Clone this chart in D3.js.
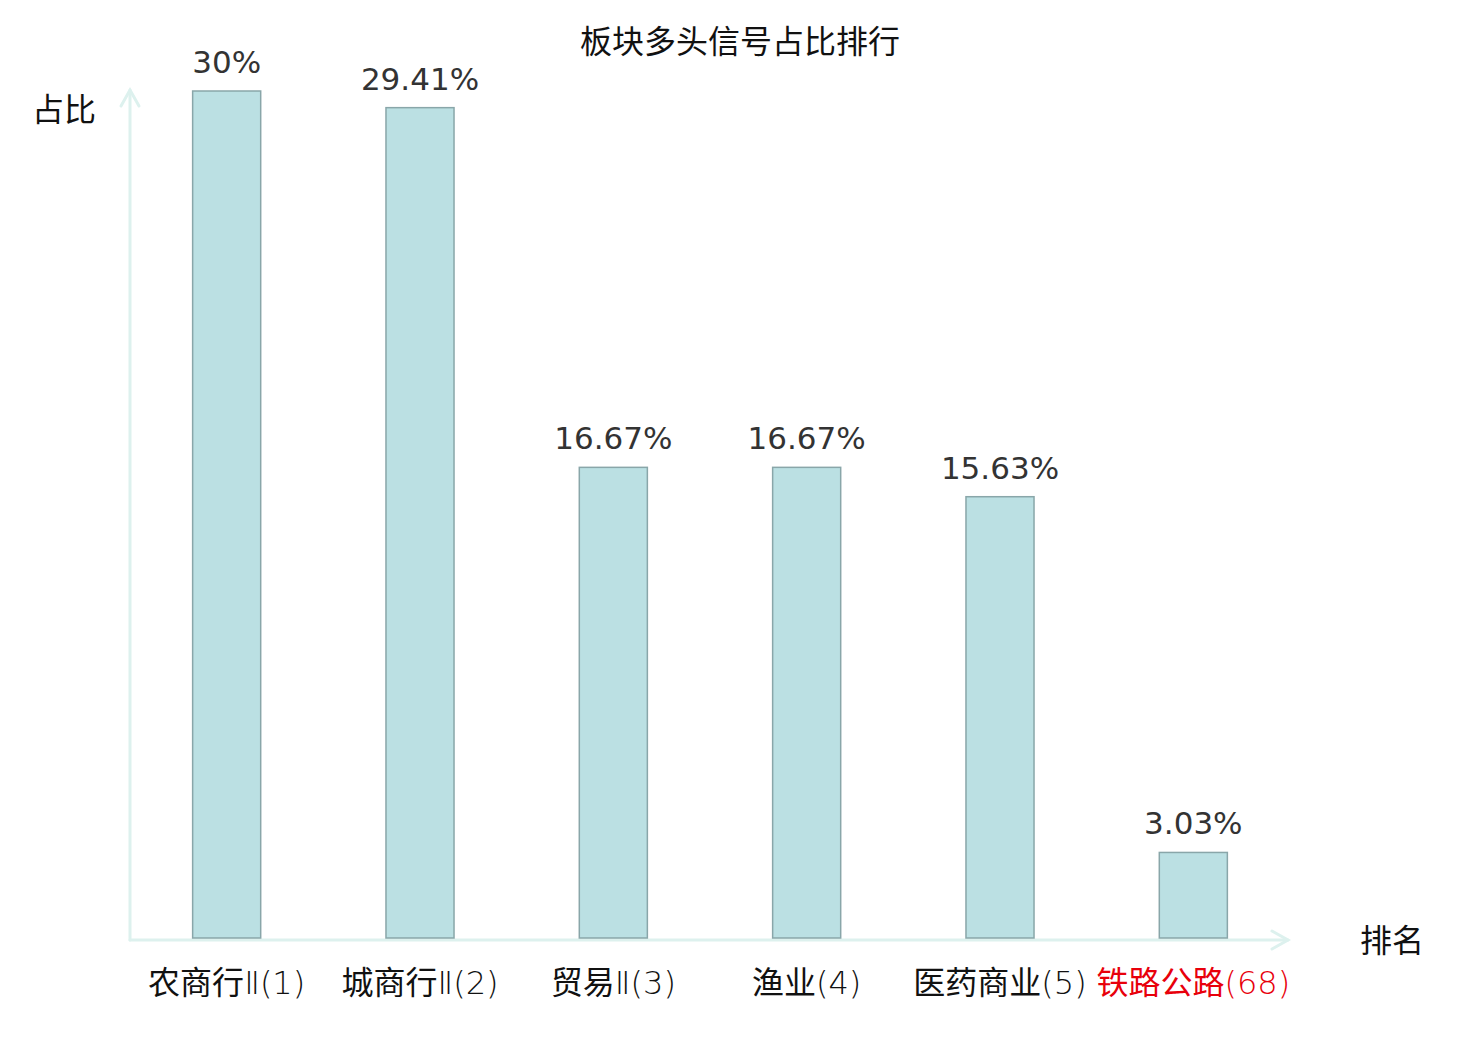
<!DOCTYPE html>
<html>
<head>
<meta charset="utf-8">
<script src="https://cdn.jsdelivr.net/npm/d3@7"></script>
<style>
  body { margin: 0; background: #fff; }
  svg { display: block; }
</style>
</head>
<body>
<div id="chart"></div>
<script>
// chart data
const categories = ["农商行Ⅱ(1)", "城商行Ⅱ(2)", "贸易Ⅱ(3)", "渔业(4)", "医药商业(5)", "铁路公路(68)"];
const shares = [30, 29.41, 16.67, 16.67, 15.63, 3.03];
const valueLabels = ["30%", "29.41%", "16.67%", "16.67%", "15.63%", "3.03%"];
const highlighted = ["铁路公路(68)"];

const cjk = "'Noto Sans CJK SC', 'Noto Sans', sans-serif";
const latin = "'DejaVu Sans', sans-serif";
const thin = "'DejaVu Sans ExtraLight', 'DejaVu Sans', sans-serif";

function renderChart() {
  const svg = d3.select("#chart")
    .append("svg")
    .attr("width", 1480)
    .attr("height", 1040);

  // scales
  const x = d3.scaleBand()
    .domain(categories)
    .range([130, 1290])
    .paddingInner(0.648)
    .paddingOuter(0.324);

  const y = d3.scaleLinear()
    .domain([0, 30])
    .range([938, 91]);

  const axisColor = "#ddf1ee";

  // axis lines with arrow heads
  const axes = svg.append("g")
    .attr("stroke", axisColor)
    .attr("stroke-width", 3)
    .attr("fill", "none")
    .attr("stroke-linecap", "round");

  axes.append("line")
    .attr("x1", 130).attr("y1", 940)
    .attr("x2", 130).attr("y2", 90);
  axes.append("path")
    .attr("d", "M121,106 L130,90 L139,106");

  axes.append("line")
    .attr("x1", 130).attr("y1", 940)
    .attr("x2", 1288).attr("y2", 940);
  axes.append("path")
    .attr("d", "M1272,931 L1288,940 L1272,949");

  // bars
  svg.selectAll(".bar")
    .data(categories)
    .enter().append("rect")
    .attr("class", "bar")
    .attr("x", d => x(d))
    .attr("y", (d, i) => y(shares[i]))
    .attr("width", x.bandwidth())
    .attr("height", (d, i) => y(0) - y(shares[i]))
    .attr("fill", "#bbe0e3")
    .attr("stroke", "#89a6a9")
    .attr("stroke-width", 1.5);

  // value labels
  svg.selectAll(".top-label")
    .data(categories)
    .enter().append("text")
    .attr("class", "top-label")
    .attr("x", d => x(d) + x.bandwidth() / 2)
    .attr("y", (d, i) => y(shares[i]) - 18)
    .attr("text-anchor", "middle")
    .style("font-family", latin)
    .style("font-size", "31px")
    .style("fill", "#333")
    .text((d, i) => valueLabels[i]);

  // category labels: CJK name, then roman numeral and rank in a thin face
  const split = d => d.match(/^(.*?)(Ⅱ?\(\d+\))$/);

  const cat = svg.selectAll(".cat-label")
    .data(categories)
    .enter().append("text")
    .attr("class", "cat-label")
    .attr("x", d => x(d) + x.bandwidth() / 2)
    .attr("y", 994)
    .attr("text-anchor", "middle")
    .style("font-size", "32px")
    .style("fill", d => highlighted.includes(d) ? "#e8000b" : "#111");

  cat.append("tspan")
    .style("font-family", cjk)
    .text(d => split(d)[1]);
  cat.append("tspan")
    .style("font-family", thin)
    .style("font-weight", 200)
    .text(d => split(d)[2]);

  // title
  svg.append("text")
    .attr("x", 740)
    .attr("y", 53)
    .attr("text-anchor", "middle")
    .style("font-family", cjk)
    .style("font-size", "32px")
    .style("fill", "#111")
    .text("板块多头信号占比排行");

  // axis names
  svg.append("text")
    .attr("x", 32)
    .attr("y", 121)
    .style("font-family", cjk)
    .style("font-size", "32px")
    .style("fill", "#111")
    .text("占比");

  svg.append("text")
    .attr("x", 1360)
    .attr("y", 952)
    .style("font-family", cjk)
    .style("font-size", "32px")
    .style("fill", "#111")
    .text("排名");
}

document.addEventListener('DOMContentLoaded', function() {
  renderChart();
});
</script>
</body>
</html>
